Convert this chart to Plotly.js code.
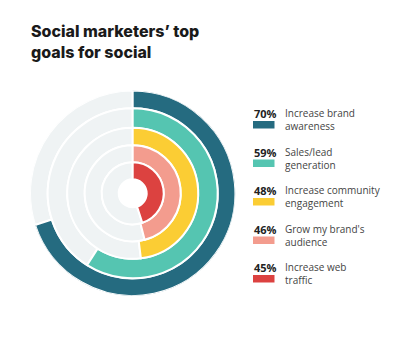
<!DOCTYPE html>
<html><head><meta charset="utf-8">
<script src="https://cdn.plot.ly/plotly-3.0.1.min.js"></script>
<style>html,body{margin:0;padding:0;background:#fff;}#chart{width:401px;height:339px;}</style>
</head><body><div id="chart"></div>
<script>
// ---- data ----
const pctLabels = ["70%", "59%", "48%", "46%", "45%"];
const goalsLine1 = ["Increase brand", "Sales/lead", "Increase community", "Grow my brand's", "Increase web"];
const goalsLine2 = ["awareness", "generation", "engagement", "audience", "traffic"];
const pctValues = [70, 59, 48, 46, 45];
const colors = ["#256b80", "#55c5b1", "#fbcd34", "#f39c8e", "#dc4240"];
const titleLines = ["Social marketers’ top", "goals for social"];

// ---- geometry (pixels) ----
const W = 401, H = 339;
const cx = 132.7, cy = 193.3, R = 102.7;
const bounds = [102.7, 85, 65.5, 48, 31, 14]; // ring edges, outer->inner
const gray = "#eff3f4";

const traces = [];
pctValues.forEach((v, i) => {
  const span = v * 3.6;
  const outer = bounds[i], inner = bounds[i + 1];
  traces.push({
    type: "barpolar", r: [outer - inner], base: [inner],
    theta: [(span + 360) / 2], width: [360 - span],
    marker: {color: gray, line: {color: "#ffffff", width: 2}},
    hoverinfo: "skip", showlegend: false
  });
  traces.push({
    type: "barpolar", r: [outer - inner], base: [inner],
    theta: [span / 2], width: [span],
    marker: {color: colors[i], line: {color: "#ffffff", width: 2}},
    name: goalsLine1[i] + " " + goalsLine2[i], showlegend: false
  });
});

const px = x => x / W, py = y => 1 - y / H;
const annotations = [{
  text: titleLines.join("<br>"), xref: "paper", yref: "paper",
  x: px(29), y: py(41.5), xanchor: "left", yanchor: "middle", align: "left",
  showarrow: false, font: {family: "Inter", size: 16, weight: 800, color: "#1a1a1a"}
}];
const shapes = [];
const rowY = [113.5, 152, 190.5, 229, 267.5];
pctValues.forEach((v, i) => {
  const y = rowY[i];
  annotations.push({
    text: "<b>" + pctLabels[i] + "</b>", xref: "paper", yref: "paper",
    x: px(252), y: py(y), xanchor: "left", yanchor: "middle",
    showarrow: false, font: {family: "Open Sans", size: 11, color: "#222"}
  });
  annotations.push({
    text: goalsLine1[i] + "<br>" + goalsLine2[i], xref: "paper", yref: "paper",
    x: px(283), y: py(y + 6), xanchor: "left", yanchor: "middle", align: "left",
    showarrow: false, font: {family: "Open Sans", size: 10, color: "#444"}
  });
  shapes.push({
    type: "rect", xref: "paper", yref: "paper",
    x0: px(253), x1: px(274.5), y0: py(y + 7.5), y1: py(y + 15),
    fillcolor: colors[i], line: {width: 0}
  });
});

const layout = {
  width: W, height: H, margin: {l: 0, r: 0, t: 0, b: 0},
  paper_bgcolor: "#fff", showlegend: false,
  polar: {
    domain: {x: [(cx - R) / W, (cx + R) / W], y: [1 - (cy + R) / H, 1 - (cy - R) / H]},
    bgcolor: "#fff",
    radialaxis: {visible: false, range: [0, R]},
    angularaxis: {visible: false, rotation: 90, direction: "clockwise"}
  },
  annotations: annotations, shapes: shapes
};
Plotly.newPlot("chart", traces, layout, {displayModeBar: false, staticPlot: true});
</script></body></html>
